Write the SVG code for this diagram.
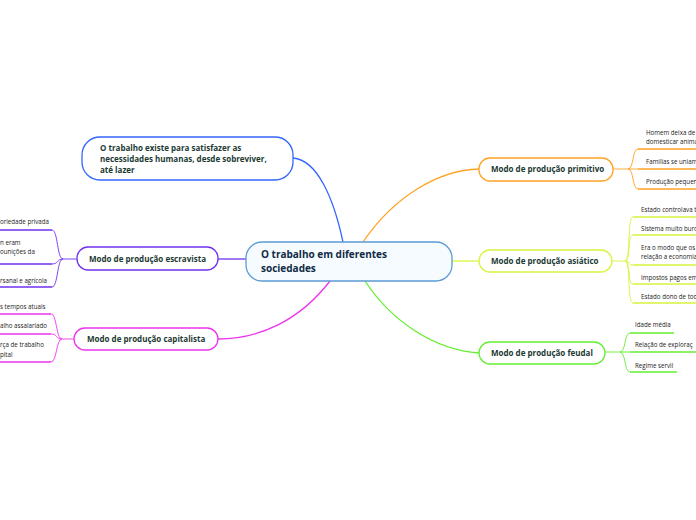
<svg xmlns="http://www.w3.org/2000/svg" width="696" height="520" viewBox="0 0 696 520">
<style>
.n{fill:#fff;stroke-width:1.3}
.t{font-family:"Open Sans","DejaVu Sans",sans-serif;font-weight:bold;font-size:8px;fill:#1b3a33}
.c{font-family:"Open Sans","DejaVu Sans",sans-serif;font-size:6.2px;fill:#222}
.k{fill:none;stroke-width:1.3}
.u{fill:none;stroke-width:1.6}
.b{fill:none;stroke-width:0.9}
</style>
<rect width="696" height="520" fill="#fff"/>
<g id="connectors">
<path class="k" stroke="#3366ff" d="M293,158 C318,160 334,200 343,242"/>
<path class="k" stroke="#ffa325" d="M363,242 C395,195 440,170 479,169"/>
<path class="k" stroke="#d8f43c" d="M452,261 H479"/>
<path class="k" stroke="#66ee33" d="M365,281 C392,322 435,350 479,353"/>
<path class="k" stroke="#7030f0" d="M218,259 H246"/>
<path class="k" stroke="#ee33ee" d="M330,281 C300,320 260,339 218,339"/>
<!-- primitivo children -->
<g stroke="#ffa325">
<path class="b" d="M613,169 H628 C634,169 632,149 638,149"/>
<path class="b" d="M628,169 H638"/>
<path class="b" d="M628,169 C634,169 632,189 638,189"/>
<path class="u" d="M638,149 H696 M638,169 H696 M638,189 H696"/>
</g>
<g stroke="#d8f43c">
<path class="b" d="M612,261 H625 C631,261 627,217 633,217"/>
<path class="b" d="M625,261 C631,261 627,235 633,235"/>
<path class="b" d="M625,261 C631,261 627,265 633,265"/>
<path class="b" d="M625,261 C631,261 627,284 633,284"/>
<path class="b" d="M625,261 C631,261 627,303 633,303"/>
<path class="u" d="M633,217 H696 M633,235 H696 M633,265 H696 M633,284 H696 M633,303 H696"/>
</g>
<g stroke="#66ee33">
<path class="b" d="M605,352 H620 C626,352 624,333 630,333"/>
<path class="b" d="M620,352 H630"/>
<path class="b" d="M620,352 C626,352 624,372 630,372"/>
<path class="u" d="M630,333 H674 M630,352 H696 M630,372 H677"/>
</g>
<g stroke="#7030f0">
<path class="b" d="M77,259 H63 C57,259 58,230 52,230"/>
<path class="b" d="M63,259 C57,259 58,264 52,264"/>
<path class="b" d="M63,259 C57,259 58,287 52,287"/>
<path class="u" d="M0,230 H52 M0,264 H52 M0,287 H52"/>
</g>
<g stroke="#ee33ee">
<path class="b" d="M74,339 H62 C56,339 57,314 51,314"/>
<path class="b" d="M62,339 C56,339 57,334 51,334"/>
<path class="b" d="M62,339 C56,339 57,362 51,362"/>
<path class="u" d="M0,314 H51 M0,334 H51 M0,362 H51"/>
</g>
</g>
<g id="center">
<rect x="246" y="242" width="206" height="39" rx="16" fill="#f6fbff" stroke="#5b9bd5" stroke-width="1.3"/>
<text font-family="Open Sans, DejaVu Sans, sans-serif" font-weight="bold" font-size="10" fill="#0f2a45"><tspan x="261" y="258">O trabalho em diferentes</tspan><tspan x="261" y="272">sociedades</tspan></text>
</g>
<g id="n-trabalho">
<rect class="n" x="82" y="137" width="211" height="43" rx="18" stroke="#3366ff"/>
<text class="t"><tspan x="100" y="151">O trabalho existe para satisfazer as</tspan><tspan x="100" y="162">necessidades humanas, desde sobreviver,</tspan><tspan x="100" y="173">até lazer</tspan></text>
</g>
<g id="n-primitivo">
<rect class="n" x="479" y="158" width="134" height="23" rx="11" stroke="#ffa325"/>
<text class="t" x="491" y="172">Modo de produção primitivo</text>
</g>
<g id="n-asiatico">
<rect class="n" x="479" y="250" width="133" height="22" rx="11" stroke="#d8f43c"/>
<text class="t" x="491" y="264">Modo de produção asiático</text>
</g>
<g id="n-feudal">
<rect class="n" x="479" y="342" width="126" height="22" rx="11" stroke="#66ee33"/>
<text class="t" x="491" y="356">Modo de produção feudal</text>
</g>
<g id="n-escravista">
<rect class="n" x="77" y="247" width="141" height="23" rx="11" stroke="#7030f0"/>
<text class="t" x="89" y="262">Modo de produção escravista</text>
</g>
<g id="n-capitalista">
<rect class="n" x="74" y="328" width="144" height="22" rx="11" stroke="#ee33ee"/>
<text class="t" x="87" y="342">Modo de produção capitalista</text>
</g>
<g id="children">
<text class="c"><tspan x="646" y="135">Homem deixa de s</tspan><tspan x="646" y="144">domesticar anima</tspan></text>
<text class="c" x="646" y="164">Famílias se uniam</text>
<text class="c" x="646" y="184">Produção pequena</text>
<text class="c" x="641" y="212">Estado controlava tu</text>
<text class="c" x="641" y="231">Sistema muito buro</text>
<text class="c"><tspan x="641" y="250">Era o modo que os p</tspan><tspan x="641" y="259">relação a economia</tspan></text>
<text class="c" x="641" y="280">Impostos pagos em</text>
<text class="c" x="641" y="299">Estado dono de toda</text>
<text class="c" x="635" y="327">Idade média</text>
<text class="c" x="635" y="347">Relação de exploraç</text>
<text class="c" x="635" y="368">Regime servil</text>
<text class="c" x="0" y="224">oriedade privada</text>
<text class="c"><tspan x="0" y="245">n eram</tspan><tspan x="0" y="254">ounições da</tspan></text>
<text class="c" x="0" y="283">rsanal e agrícola</text>
<text class="c" x="0" y="309">s tempos atuais</text>
<text class="c" x="0" y="328">alho assalariado</text>
<text class="c"><tspan x="0" y="347">rça de trabalho</tspan><tspan x="0" y="357">pital</tspan></text>
</g>
</svg>
